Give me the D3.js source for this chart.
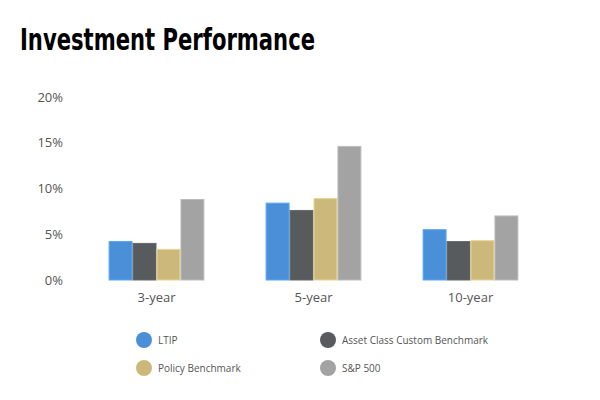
<!DOCTYPE html>
<html><head><meta charset="utf-8">
<script src="https://cdn.jsdelivr.net/npm/d3@7"></script>
<style>body{margin:0;background:#fff}</style>
</head><body><svg id="c" width="600" height="400"></svg>
<script>
const categories = ["3-year", "5-year", "10-year"];
const seriesNames = ["LTIP", "Asset Class Custom Benchmark", "Policy Benchmark", "S&P 500"];
const ltip = [4.2, 8.4, 5.5];
const assetClass = [4.0, 7.6, 4.2];
const policy = [3.35, 8.9, 4.3];
const sp500 = [8.8, 14.6, 7.0];
const yTicks = [0, 5, 10, 15, 20];
const colors = ["#4a90d9", "#575b5e", "#cdb87c", "#a2a3a2"];
const seriesValues = [ltip, assetClass, policy, sp500];

const svg = d3.select("#c");
const font = "'Open Sans', sans-serif";

svg.append("text").attr("x", 20).attr("y", 50)
  .attr("font-family", "'Liberation Sans Narrow', 'DejaVu Sans Condensed', sans-serif")
  .attr("font-weight", "bold").attr("font-size", 30).attr("fill", "#000")
  .attr("textLength", 295).attr("lengthAdjust", "spacingAndGlyphs")
  .text("Investment Performance");

const x = d3.scaleBand().domain(categories).range([78, 549]).paddingInner(0.39).paddingOuter(0.195);
const x1 = d3.scaleBand().domain(seriesNames).range([0, x.bandwidth()]);
const y = d3.scaleLinear().domain([0, 20]).range([280, 97]);

const yAxis = svg.append("g").attr("transform", "translate(63,0)")
  .call(d3.axisLeft(y).tickValues(yTicks).tickSize(0).tickPadding(0).tickFormat(d => d + "%"));
yAxis.select(".domain").remove();
yAxis.selectAll("text").attr("font-family", font).attr("font-size", 13).attr("fill", "#555");

const groups = svg.append("g").selectAll("g").data(categories).join("g")
  .attr("transform", d => `translate(${x(d)},0)`);
groups.selectAll("rect").data((d, i) => seriesNames.map((s, j) => ({s, j, v: seriesValues[j][i]})))
  .join("rect")
  .attr("x", d => x1(d.s) + 0.5).attr("width", x1.bandwidth() - 1)
  .attr("y", d => y(d.v)).attr("height", d => y(0) - y(d.v))
  .attr("fill", d => colors[d.j])
  .attr("stroke", d => d3.color(colors[d.j]).brighter(0.4))
  .attr("stroke-width", 1);

const xAxis = svg.append("g").attr("transform", "translate(0,280)")
  .call(d3.axisBottom(x).tickSize(0).tickPadding(13));
xAxis.select(".domain").remove();
xAxis.selectAll("text").attr("font-family", font).attr("font-size", 13).attr("fill", "#555");

const legendPos = [[144, 340], [328, 340], [144, 368], [328, 368]];
const lg = svg.append("g").selectAll("g").data(seriesNames).join("g")
  .attr("transform", (d, i) => `translate(${legendPos[i][0]},${legendPos[i][1]})`);
lg.append("circle").attr("r", 8).attr("fill", (d, i) => colors[i]);
lg.append("text").attr("x", 14).attr("dy", "0.35em")
  .attr("font-family", font).attr("font-size", 10).attr("fill", "#555").text(d => d);
</script></body></html>
